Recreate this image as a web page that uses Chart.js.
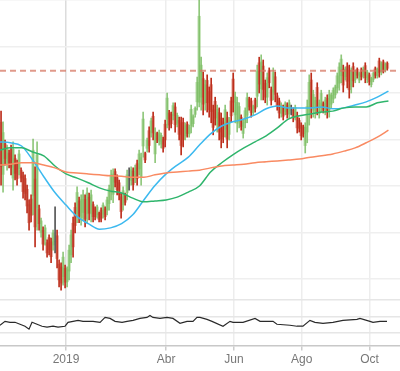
<!DOCTYPE html>
<html>
<head>
<meta charset="utf-8">
<script src="https://cdn.jsdelivr.net/npm/chart.js@4.4.1/dist/chart.umd.min.js"></script>
<style>
  html, body { margin: 0; padding: 0; background: #fff; }
  #price-wrap { position: relative; width: 400px; height: 299px; }
  #osc-wrap { position: relative; width: 400px; height: 70px; }
</style>
</head>
<body>
<div id="price-wrap"><canvas id="priceChart"></canvas></div>
<div id="osc-wrap"><canvas id="oscChart"></canvas></div>
<script>
// x axis is in days since 1 Jan 2019
const xMin = -59.4;
const xMax = 300.4;
const xTickDays = [0, 90, 151, 212, 273];
const xTickLabels = ['2019', 'Abr', 'Jun', 'Ago', 'Oct'];
const priceTicks = [10, 20, 30, 40, 50, 60, 70];
const oscTicks = [1, 2, 3];

// one bar every ~1.8 days
const firstBarDay = -58.45;
const barStep = 1.8;

const opens = [
    43.7, 32.5, 39.1, 34.8, 37.1, 37.8, 31.7, 35.9, 34.8, 33.7,
    33.4, 32.2, 31.6, 29.3, 26.0, 27.2, 27.9, 31.5, 25.3, 25.1,
    20.0, 20.5, 18.4, 17.8, 18.9, 18.0, 17.3, 18.0, 19.3, 13.2,
    12.6, 10.5, 12.3, 9.4, 11.7, 15.2, 22.0, 25.4, 24.0, 26.8,
    23.2, 24.3, 27.1, 24.0, 27.6, 24.0, 26.0, 25.1, 23.8, 24.1,
    24.8, 23.9, 25.1, 24.8, 26.2, 28.6, 28.2, 33.1, 31.8, 30.7,
    27.7, 26.0, 28.1, 28.6, 31.5, 31.2, 33.2, 31.7, 34.8, 33.7,
    31.9, 38.6, 37.0, 38.1, 41.9, 41.5, 45.0, 36.9, 41.3, 39.6,
    39.0, 40.0, 43.3, 44.4, 45.7, 45.4, 45.1, 47.0, 43.5, 44.1,
    43.6, 43.7, 40.8, 43.3, 41.2, 42.9, 43.4, 45.4, 48.1, 48.0,
    49.1, 53.1, 47.9, 52.7, 50.3, 51.8, 46.4, 48.2, 43.1, 45.8,
    44.6, 43.8, 42.2, 44.7, 41.1, 48.3, 53.0, 45.3, 43.5, 43.9,
    44.8, 41.3, 43.6, 45.2, 48.7, 48.3, 45.8, 48.5, 49.3, 56.5,
    50.9, 55.8, 52.1, 49.1, 54.8, 50.7, 50.2, 53.5, 49.4, 48.3,
    45.6, 46.9, 46.0, 47.4, 45.6, 46.3, 46.3, 45.0, 45.2, 44.1,
    43.0, 42.7, 38.7, 41.6, 45.8, 52.8, 46.3, 45.7, 51.2, 45.6,
    47.1, 47.7, 46.3, 48.9, 46.3, 47.6, 48.7, 49.6, 51.1, 52.1,
    53.7, 55.1, 53.5, 55.7, 54.9, 51.4, 55.7, 52.9, 55.1, 52.8,
    55.0, 53.8, 55.9, 52.9, 53.9, 51.8, 52.9, 55.2, 53.7, 56.9,
    54.6, 56.7, 55.0, 56.4
];
const highs = [
    46.1, 43.8, 39.9, 38.8, 37.7, 38.8, 39.5, 36.7, 35.6, 37.7,
    33.9, 33.0, 32.4, 30.2, 27.0, 28.1, 40.1, 34.1, 39.5, 25.9,
    23.1, 21.2, 21.6, 18.4, 19.5, 18.8, 20.5, 25.5, 20.5, 14.1,
    13.5, 15.8, 13.0, 12.6, 17.3, 20.5, 23.3, 26.4, 29.8, 27.6,
    28.1, 29.1, 28.1, 29.6, 28.5, 29.1, 26.6, 25.5, 25.9, 24.4,
    25.3, 26.4, 25.5, 27.6, 30.2, 33.4, 33.7, 33.7, 32.4, 31.3,
    28.5, 29.8, 28.5, 33.4, 33.9, 34.1, 33.9, 34.5, 35.6, 37.7,
    37.1, 45.9, 37.3, 40.3, 42.7, 44.6, 45.9, 42.5, 41.6, 42.0,
    41.4, 40.5, 44.2, 50.0, 46.3, 45.9, 47.9, 47.9, 45.7, 44.8,
    44.8, 44.6, 43.6, 43.8, 43.1, 47.4, 45.3, 47.0, 53.4, 70.0,
    57.7, 54.5, 52.8, 53.9, 51.3, 53.2, 47.4, 49.1, 47.4, 46.8,
    45.7, 44.6, 47.4, 45.9, 44.8, 49.1, 54.3, 50.2, 49.1, 47.9,
    45.3, 44.2, 46.8, 50.0, 49.1, 48.9, 47.4, 48.9, 56.0, 57.7,
    58.2, 57.1, 52.8, 54.3, 55.4, 51.3, 55.4, 54.5, 50.0, 48.9,
    47.9, 47.4, 48.1, 47.9, 48.5, 47.4, 46.8, 47.4, 45.9, 44.6,
    43.6, 43.1, 43.6, 48.5, 53.9, 54.3, 50.6, 49.1, 52.2, 48.5,
    50.6, 48.1, 49.1, 49.6, 50.6, 50.0, 51.1, 51.7, 54.3, 56.5,
    58.2, 56.0, 55.6, 56.5, 56.0, 55.4, 56.5, 54.9, 55.4, 54.5,
    55.4, 55.6, 56.5, 54.9, 54.3, 53.4, 54.5, 55.6, 55.4, 57.5,
    56.7, 57.1, 56.5, 56.7
];
const lows = [
    30.2, 28.7, 34.5, 33.4, 33.9, 32.4, 29.1, 31.3, 30.2, 32.4,
    30.9, 27.4, 27.0, 24.2, 20.5, 22.3, 23.8, 16.9, 20.5, 20.5,
    19.0, 16.2, 17.3, 14.7, 15.2, 13.5, 16.2, 15.6, 12.4, 8.3,
    7.6, 8.7, 8.1, 8.3, 9.8, 13.5, 14.7, 19.9, 22.1, 22.1,
    21.6, 22.7, 21.2, 22.1, 22.7, 22.3, 22.3, 22.7, 23.1, 22.3,
    22.3, 23.1, 22.7, 23.8, 24.8, 27.0, 26.4, 29.8, 28.1, 27.0,
    23.1, 24.8, 25.9, 27.0, 29.1, 30.2, 29.1, 30.7, 30.2, 32.4,
    30.2, 36.2, 35.0, 37.3, 37.3, 40.5, 39.9, 35.0, 39.3, 38.8,
    38.2, 37.3, 38.4, 42.5, 42.0, 42.5, 44.2, 41.6, 42.7, 39.9,
    36.7, 38.4, 39.9, 40.5, 40.5, 41.4, 42.7, 44.8, 46.3, 47.0,
    46.3, 45.3, 46.3, 45.9, 44.8, 43.6, 41.0, 43.1, 41.6, 39.9,
    38.2, 39.3, 40.5, 38.2, 39.9, 43.8, 45.9, 43.6, 41.6, 42.5,
    42.0, 40.3, 42.5, 43.6, 46.3, 44.8, 45.3, 45.9, 47.0, 50.0,
    48.5, 48.5, 47.9, 47.4, 51.1, 47.4, 48.5, 48.1, 46.3, 44.6,
    44.8, 44.2, 45.3, 44.6, 44.6, 45.3, 43.8, 44.2, 41.4, 41.6,
    39.9, 40.5, 37.1, 39.3, 43.1, 44.6, 44.8, 44.6, 45.3, 44.6,
    45.9, 45.7, 45.3, 44.6, 44.8, 46.8, 47.9, 48.9, 50.0, 50.6,
    52.2, 50.2, 52.8, 51.1, 48.9, 50.0, 51.3, 52.2, 53.2, 52.2,
    52.8, 53.2, 52.2, 52.2, 51.7, 51.3, 52.4, 53.2, 53.2, 53.4,
    53.9, 54.3, 54.5, 54.9
];
const closes = [
    34.2, 41.5, 35.9, 38.0, 34.9, 34.0, 37.9, 32.7, 31.6, 36.9,
    31.7, 28.8, 28.4, 25.7, 22.1, 23.7, 37.7, 21.2, 36.7, 21.9,
    22.5, 17.5, 21.0, 15.6, 16.3, 14.8, 19.9, 18.0, 14.4, 9.8,
    9.1, 14.7, 9.3, 12.0, 16.2, 19.5, 16.9, 21.5, 28.6, 23.5,
    27.1, 28.1, 22.9, 28.5, 24.2, 28.1, 23.4, 23.4, 25.5, 22.8,
    23.1, 25.9, 23.4, 27.0, 29.4, 32.4, 32.6, 30.8, 29.2, 28.1,
    24.5, 29.0, 26.5, 32.4, 31.5, 33.5, 30.3, 33.9, 31.6, 36.9,
    36.1, 44.4, 35.6, 39.8, 38.7, 44.0, 41.4, 41.4, 39.9, 41.5,
    40.9, 38.1, 39.9, 48.9, 43.1, 43.4, 47.3, 43.2, 45.2, 41.1,
    38.7, 40.0, 43.0, 41.3, 42.7, 46.5, 44.9, 46.7, 52.3, 66.5,
    56.0, 47.6, 51.8, 47.9, 46.4, 46.0, 42.6, 44.6, 46.5, 41.6,
    40.1, 40.6, 46.4, 40.1, 44.1, 45.1, 48.0, 49.2, 48.0, 47.1,
    42.8, 43.6, 46.2, 49.0, 47.0, 45.8, 47.1, 46.7, 54.7, 51.9,
    56.7, 50.7, 49.1, 53.3, 52.2, 48.4, 54.4, 49.7, 47.2, 45.7,
    47.4, 45.0, 47.7, 45.4, 47.9, 46.3, 44.6, 46.9, 42.5, 42.4,
    40.8, 41.2, 42.6, 47.1, 52.3, 47.0, 49.7, 48.4, 47.0, 47.9,
    49.9, 46.3, 48.5, 45.9, 49.7, 49.5, 50.6, 51.3, 53.7, 55.6,
    57.3, 51.7, 55.2, 52.5, 50.7, 54.6, 52.6, 54.5, 53.8, 54.2,
    53.5, 55.2, 53.3, 54.5, 52.4, 53.1, 54.2, 53.8, 55.1, 54.4,
    56.3, 55.0, 56.2, 55.3
];

// moving averages, read every 10 days
const maDays = [-60, -50, -40, -30, -20, -10, 0, 10, 20, 30, 40, 50, 60, 70, 80, 90, 100, 110,
    120, 130, 140, 150, 160, 170, 180, 190, 200, 210, 220, 230, 240, 250, 260, 270, 280, 290];
const maFast = [39.5, 39.3, 38.6, 35.6, 32.0, 28.6, 25.9, 23.4, 21.9, 20.7, 21.0, 21.9, 23.8, 27.0,
    30.1, 32.6, 34.5, 36.2, 38.8, 41.2, 42.9, 43.8, 44.4, 45.3, 46.6, 47.2, 46.8, 46.8, 46.8, 47.0,
    46.6, 46.8, 47.4, 48.1, 49.1, 50.4];
const maMid = [37.7, 38.2, 38.2, 37.3, 36.5, 34.3, 32.6, 31.7, 30.7, 29.6, 28.9, 28.5, 27.4, 26.6,
    26.8, 27.0, 27.6, 28.7, 30.0, 33.0, 35.0, 36.7, 38.2, 39.5, 40.8, 42.5, 44.4, 45.1, 45.5, 45.9,
    46.1, 46.8, 47.0, 47.0, 47.9, 48.3];
const maSlow = [34.5, 34.7, 35.0, 35.0, 34.5, 33.9, 33.0, 32.8, 32.6, 32.4, 32.2, 32.1, 31.9, 31.9,
    32.4, 32.8, 33.0, 33.2, 33.4, 33.9, 34.3, 34.5, 34.7, 35.0, 35.2, 35.4, 35.6, 35.8, 36.2, 36.5,
    36.9, 37.5, 38.2, 39.3, 40.5, 42.0];
const resistanceLevel = 54.8;

// lower panel
const oscDays = [-59.4, -54.9, -50.4, -45.9, -41.4, -36.9, -33.3, -30.6, -26.1, -21.6, -17.1, -11.7,
    -7.2, -0.9, 1.8, 6.3, 10.8, 15.3, 19.8, 24.3, 30.6, 35.1, 39.6, 44.1, 50.4, 54.9, 60.3, 66.5,
    72.8, 75.5, 78.2, 84.5, 90.8, 96.2, 102.5, 108.8, 114.2, 117.8, 120.5, 126.8, 131.3, 141.2,
    147.5, 150.2, 159.2, 170.0, 174.5, 186.2, 189.7, 201.4, 207.7, 213.1, 219.4, 223.9, 231.1,
    240.1, 249.1, 261.7, 264.4, 273.4, 276.1, 282.4, 288.7];
const oscValues = [1.45, 1.69, 1.63, 1.63, 1.51, 1.39, 1.21, 1.63, 1.51, 1.39, 1.33, 1.39,
    1.33, 1.39, 1.63, 1.69, 1.75, 1.69, 1.69, 1.69, 1.63, 1.93, 1.87, 1.69, 1.63, 1.69, 1.75, 1.87,
    1.93, 2.05, 1.93, 1.87, 1.93, 1.87, 1.57, 1.69, 1.69, 1.93, 1.93, 1.81, 1.69, 1.39,
    1.69, 1.63, 1.63, 1.87, 1.69, 1.69, 1.51, 1.45, 1.39, 1.39, 1.75, 1.63, 1.57,
    1.63, 1.75, 1.81, 1.87, 1.69, 1.63, 1.69, 1.69];

const UP_BODY = 'rgba(150, 205, 125, 0.5)';
const UP_WICK = 'rgba(115, 185, 90, 0.8)';
const DOWN_BODY = 'rgba(215, 110, 90, 0.55)';
const DOWN_WICK = '#bd2e1c';
const FLAT_WICK = '#555555';

Chart.defaults.font.family = '"Liberation Sans", Arial, sans-serif';
Chart.defaults.font.size = 12;
Chart.defaults.color = '#777';

const barDays = opens.map((_, i) => firstBarDay + i * barStep);

function dir(i) {
    if (closes[i] > opens[i]) return 1;
    if (closes[i] < opens[i]) return -1;
    return 0;
}

function setTicks(values) {
    return scale => { scale.ticks = values.map(v => ({ value: v })); };
}

function lineSet(values, color) {
    return {
        type: 'line',
        data: maDays.map((d, i) => ({ x: d, y: values[i] })),
        borderColor: color,
        borderWidth: 1.5,
        pointRadius: 0,
        cubicInterpolationMode: 'monotone',
        order: 1
    };
}

new Chart(document.getElementById('priceChart'), {
    type: 'bar',
    data: {
        datasets: [
            {
                data: barDays.map((d, i) => ({ x: d, y: [opens[i], closes[i]] })),
                backgroundColor: barDays.map((_, i) => dir(i) >= 0 ? UP_BODY : DOWN_BODY),
                barThickness: 3,
                grouped: false,
                order: 3
            },
            {
                data: barDays.map((d, i) => ({ x: d, y: [lows[i], highs[i]] })),
                backgroundColor: barDays.map((_, i) => dir(i) > 0 ? UP_WICK : (dir(i) < 0 ? DOWN_WICK : FLAT_WICK)),
                barThickness: 1,
                grouped: false,
                order: 2
            },
            lineSet(maSlow, '#f98a62'),
            lineSet(maMid, '#2fb56c'),
            lineSet(maFast, '#3cb9ef'),
            {
                type: 'line',
                data: [{ x: xMin, y: resistanceLevel }, { x: xMax, y: resistanceLevel }],
                borderColor: 'rgba(214, 120, 100, 0.75)',
                borderWidth: 2,
                borderDash: [6, 4],
                pointRadius: 0,
                order: 0
            }
        ]
    },
    options: {
        responsive: true,
        maintainAspectRatio: false,
        animation: false,
        layout: { padding: 0, autoPadding: false },
        plugins: { legend: { display: false }, tooltip: { enabled: false } },
        scales: {
            x: {
                type: 'linear',
                min: xMin,
                max: xMax,
                offset: false,
                afterBuildTicks: setTicks(xTickDays),
                ticks: { display: false },
                grid: {
                    offset: false,
                    drawTicks: false,
                    color: ctx => (ctx.tick && ctx.tick.value === 0) ? '#dcdcdc' : '#ededed',
                    lineWidth: 1.5
                },
                border: { display: false }
            },
            y: {
                type: 'linear',
                min: 5.7,
                max: 70,
                afterBuildTicks: setTicks(priceTicks),
                ticks: { display: false },
                grid: { drawTicks: false, color: '#efefef', lineWidth: 1.5 },
                border: { display: false }
            }
        }
    }
});

new Chart(document.getElementById('oscChart'), {
    type: 'line',
    data: {
        datasets: [{
            data: oscDays.map((d, i) => ({ x: d, y: oscValues[i] })),
            borderColor: '#2a2a2a',
            borderWidth: 1.2,
            pointRadius: 0,
            tension: 0
        }]
    },
    options: {
        responsive: true,
        maintainAspectRatio: false,
        animation: false,
        layout: { padding: { top: 1 }, autoPadding: false },
        plugins: { legend: { display: false }, tooltip: { enabled: false } },
        scales: {
            x: {
                type: 'linear',
                min: xMin,
                max: xMax,
                afterBuildTicks: setTicks(xTickDays),
                ticks: {
                    padding: 2,
                    maxRotation: 0,
                    autoSkip: false,
                    callback: v => xTickLabels[xTickDays.indexOf(v)]
                },
                grid: {
                    drawTicks: true,
                    tickLength: 5,
                    color: ctx => (ctx.tick && ctx.tick.value === 0) ? '#dcdcdc' : '#ededed',
                    tickColor: '#cccccc',
                    lineWidth: 1.5
                },
                border: { display: true, color: '#c8c8c8', width: 1.5 }
            },
            y: {
                type: 'linear',
                min: 0.2,
                max: 3,
                afterBuildTicks: setTicks(oscTicks),
                ticks: { display: false },
                grid: { drawTicks: false, color: '#e6e6e6', lineWidth: 1.5 },
                border: { display: false }
            }
        }
    }
});
</script>
</body>
</html>
